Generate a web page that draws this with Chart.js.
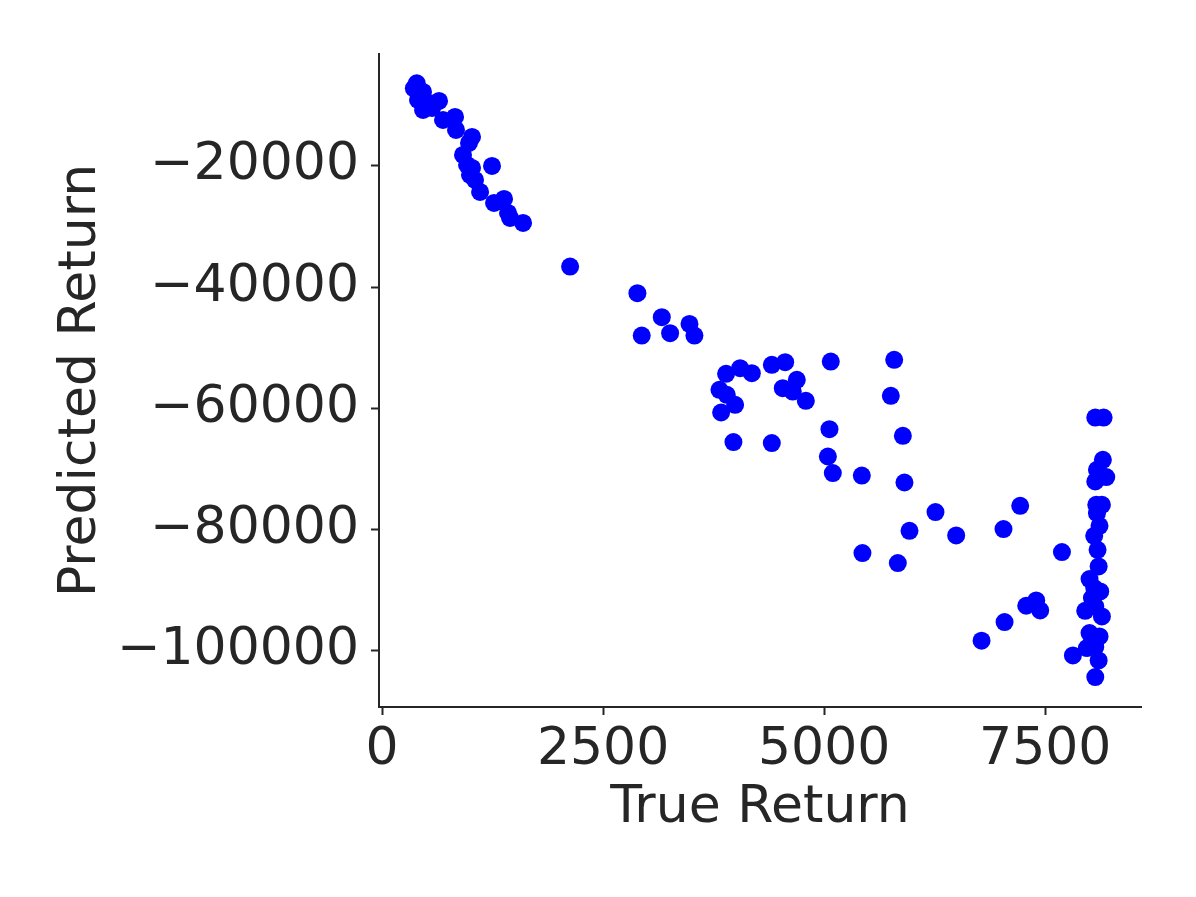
<!DOCTYPE html>
<html>
<head>
<meta charset="utf-8">
<script src="https://cdn.jsdelivr.net/npm/chart.js@4.4.0/dist/chart.umd.min.js"></script>
<style>
  html, body { margin: 0; padding: 0; background: #ffffff; }
  #wrap { width: 1196px; height: 897px; }
</style>
</head>
<body>
<div id="wrap"><canvas id="chart" width="1196" height="897"></canvas></div>
<script>
// values
const trueReturn = [
    393, 360, 464, 407, 464, 566, 645, 690, 826, 837,
    1018, 984, 916, 962, 1018, 995, 1052, 1109, 1244, 1267,
    1380, 1425, 1448, 1595, 2127, 2888, 2937, 3164, 3258, 3477,
    3533, 3891, 4050, 4182, 3816, 3899, 3993, 3835, 3974, 4408,
    4559, 4691, 4532, 4645, 4793, 4408, 5075, 5060, 5042, 5792,
    5754, 5890, 5098, 5426, 5908, 6259, 5965, 6493, 5433, 5833,
    7217, 7028, 7689, 7285, 7398, 7443, 7040, 6780, 7813, 8066,
    8160, 8152, 8085, 8190, 8066, 8141, 8077, 8085, 8114, 8054,
    8092, 8104, 8001, 8054, 8122, 8028, 7952, 8066, 8141, 8001,
    8114, 7971, 8066, 8104, 8066, 430, 520
];
const predictedReturn = [
    -6359, -7183, -7794, -9113, -10763, -10433, -9278, -12412, -11917, -14062,
    -15216, -16206, -18186, -19835, -20330, -21485, -22309, -24289, -20000, -26103,
    -25443, -27753, -28577, -29402, -36610, -40998, -47991, -44958, -47596, -46062,
    -47991, -54310, -53371, -54195, -56949, -57774, -59423, -60688, -65575, -52825,
    -52385, -55299, -56669, -57224, -58763, -65740, -52275, -63432, -67950, -52000,
    -57938, -64537, -70690, -71086, -72240, -77122, -80206, -80981, -83885, -85534,
    -76083, -79929, -83720, -92578, -91702, -93352, -95264, -98351, -100774, -61517,
    -61517, -68496, -70145, -71350, -72075, -75918, -75918, -77293, -79383, -81033,
    -83340, -86098, -88175, -89660, -90214, -91312, -93406, -92696, -94345, -97091,
    -97641, -99561, -99396, -101606, -104344, -8500, -9600
];
const xTicks = [0, 2500, 5000, 7500];
const yTicks = [-20000, -40000, -60000, -80000, -100000];
const xRange = [-34, 8583];
const yRange = [-109287, -1526];

const points = trueReturn.map((x, i) => ({ x: x, y: predictedReturn[i] }));
const ink = "#262626";
const fmt = v => String(v).replace("-", "\u2212");

Chart.defaults.font.family = "'DejaVu Sans', sans-serif";
Chart.defaults.color = ink;

new Chart(document.getElementById("chart").getContext("2d"), {
    type: "scatter",
    data: {
        datasets: [{
            data: points,
            backgroundColor: "#0000ff",
            borderWidth: 0,
            pointRadius: 9,
            pointHoverRadius: 9
        }]
    },
    options: {
        responsive: false,
        animation: false,
        layout: { padding: { left: 0, top: 54, right: 55, bottom: 0 } },
        plugins: { legend: { display: false }, tooltip: { enabled: false } },
        scales: {
            x: {
                type: "linear",
                min: xRange[0],
                max: xRange[1],
                afterBuildTicks: s => { s.ticks = xTicks.map(v => ({ value: v })); },
                afterFit: s => { s.height = 897 - 707; },
                border: { display: true, color: ink, width: 2 },
                grid: { drawOnChartArea: false, drawTicks: true, tickLength: 8, tickColor: ink, tickWidth: 2 },
                ticks: { font: { size: 52 }, color: ink, padding: 4, maxRotation: 0, callback: v => fmt(v) },
                title: { display: true, text: "True Return", font: { size: 52 }, color: ink, padding: { top: 0, bottom: 57 } }
            },
            y: {
                type: "linear",
                min: yRange[0],
                max: yRange[1],
                afterBuildTicks: s => { s.ticks = yTicks.map(v => ({ value: v })); },
                afterFit: s => { s.width = 379; },
                border: { display: true, color: ink, width: 2 },
                grid: { drawOnChartArea: false, drawTicks: true, tickLength: 8, tickColor: ink, tickWidth: 2 },
                ticks: { font: { size: 52 }, color: ink, padding: 12, callback: v => fmt(v) },
                title: { display: true, text: "Predicted Return", font: { size: 52 }, color: ink, padding: { top: 50, bottom: 0 } }
            }
        }
    }
});
</script>
</body>
</html>
